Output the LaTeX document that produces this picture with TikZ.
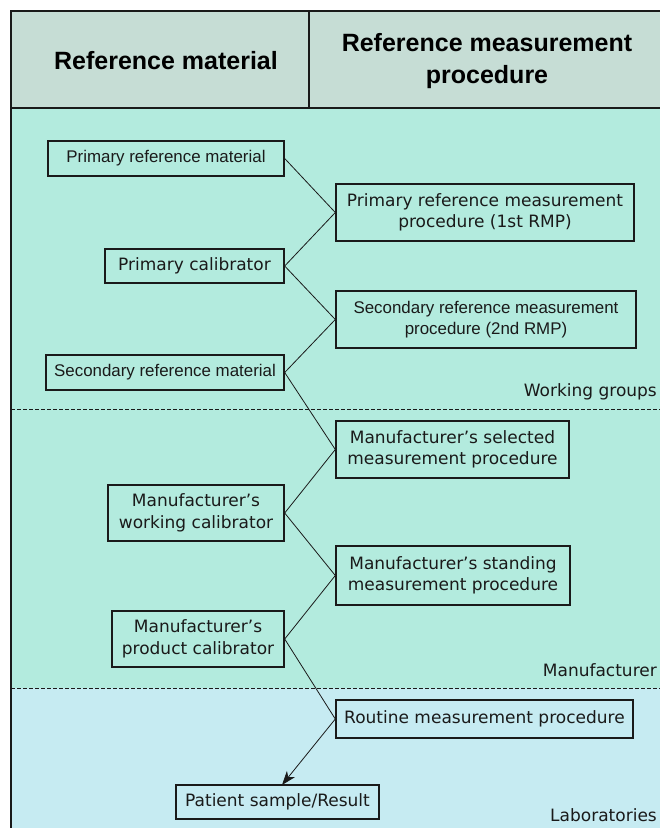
\documentclass[tikz,border=0pt]{standalone}
\usepackage{fontspec}
\setmainfont{DejaVu Sans}
\newfontfamily\arialf{Liberation Sans}
\usetikzlibrary{arrows.meta}
\newcommand{\apq}{\char"0027\relax}
\definecolor{hdrfill}{HTML}{C6DDD5}
\definecolor{mintfill}{HTML}{B3EBDE}
\definecolor{labfill}{HTML}{C6EBF2}
\definecolor{inkc}{HTML}{1A1A1A}
\tikzset{
  box/.style={draw=inkc, line width=1.4pt, rectangle, inner sep=0pt, align=center,
    text=inkc, font=\fontsize{17}{21.5}\selectfont, anchor=center},
  abox/.style={box, font=\arialf\fontsize{16.9}{21.5}\selectfont},
  link/.style={draw=inkc, line width=0.8pt},
  zone/.style={text=inkc, font=\fontsize{17}{20}\selectfont, anchor=east, inner sep=0pt},
  hdr/.style={text=black, font=\arialf\bfseries\fontsize{25}{32}\selectfont, align=center, anchor=center, inner sep=0pt},
  sep/.style={draw=inkc, line width=0.6pt, dash pattern=on 4pt off 2pt}
}
\begin{document}
\begin{tikzpicture}[x=1pt,y=-1pt]
\useasboundingbox (0,0) rectangle (660,828);
% backgrounds
\fill[hdrfill] (11,11) rectangle (660,108);
\fill[mintfill] (11,108) rectangle (660,688);
\fill[labfill] (11,688) rectangle (660,828);
% frame
\draw[inkc, line width=1.4pt] (660,11) -- (11,11) -- (11,828);
\draw[inkc, line width=1.4pt] (11,108) -- (660,108);
\draw[inkc, line width=1.4pt] (309,11) -- (309,108);
\draw[sep] (11,409) -- (660,409);
\draw[sep] (11,688) -- (660,688);
% headers
\node[hdr] (h1) at (166,61) {Reference material};
\node[hdr] (h2) at (487,61) {Reference measurement\\procedure};
% zone labels
\node[zone] (zwg) at (657,392) {Working groups};
\node[zone] (zmf) at (657,670) {Manufacturer};
\node[zone] (zlab) at (657,815) {Laboratories};
% left boxes
\node[abox, minimum width=236pt, minimum height=35pt] (prm) at (166,158.5) {Primary reference material};
\node[box, minimum width=179pt, minimum height=34pt] (pc) at (194.5,266) {Primary calibrator};
\node[abox, minimum width=238pt, minimum height=35pt] (srm) at (165,372.5) {Secondary reference material};
\node[box, minimum width=176pt, minimum height=56pt] (mwc) at (196,513) {Manufacturer\apq s\\working calibrator};
\node[box, minimum width=172pt, minimum height=56pt] (mpc) at (198,639) {Manufacturer\apq s\\product calibrator};
\node[box, minimum width=203pt, minimum height=34pt] (pat) at (277.5,802) {Patient sample/Result};
% right boxes
\node[box, minimum width=298pt, minimum height=57pt] (rmp1) at (485,212.5) {Primary reference measurement\\procedure (1st RMP)};
\node[abox, minimum width=300pt, minimum height=57pt] (rmp2) at (486,319.5) {Secondary reference measurement\\procedure (2nd RMP)};
\node[box, minimum width=233pt, minimum height=57pt] (msel) at (452.5,449.5) {Manufacturer\apq s selected\\measurement procedure};
\node[box, minimum width=234pt, minimum height=59pt] (mstd) at (453,575.5) {Manufacturer\apq s standing\\measurement procedure};
\node[box, minimum width=297pt, minimum height=38pt] (rout) at (484.5,719) {Routine measurement procedure};
% connectors
\draw[link] (prm.east) -- (rmp1.west);
\draw[link] (pc.east) -- (rmp1.west);
\draw[link] (pc.east) -- (rmp2.west);
\draw[link] (srm.east) -- (rmp2.west);
\draw[link] (srm.east) -- (msel.west);
\draw[link] (mwc.east) -- (msel.west);
\draw[link] (mwc.east) -- (mstd.west);
\draw[link] (mpc.east) -- (mstd.west);
\draw[link] (mpc.east) -- (rout.west);
\coordinate (pattop) at (282,785);
\draw[link, -{Stealth[length=14pt,width=10pt,inset=4pt]}] (rout.west) -- (pattop);
\end{tikzpicture}
\end{document}
